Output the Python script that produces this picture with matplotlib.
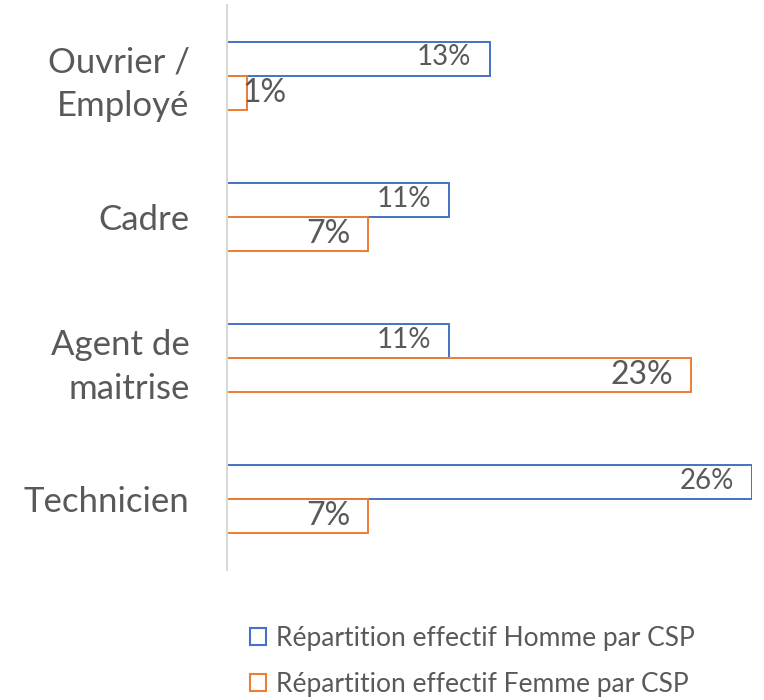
import numpy as np
import matplotlib.pyplot as plt
from matplotlib.patches import Patch

plt.rcParams['font.family'] = ['Lato', 'DejaVu Sans']

# Données
categories = ["Ouvrier /\nEmployé", "Cadre", "Agent de\nmaitrise", "Technicien"]
homme = [13, 11, 11, 26]
femme = [1, 7, 23, 7]
noms_series = ["Répartition effectif Homme par CSP", "Répartition effectif Femme par CSP"]

bleu = '#4472C4'
orange = '#ED7D31'
gris = '#595959'

fig = plt.figure(figsize=(7.64, 7.00), dpi=100)
ax = fig.add_axes([227 / 764, 130 / 700, 525 / 764, 565 / 700])

y = np.arange(len(categories))
h = 0.24
ax.barh(y - h / 2, homme, height=h, facecolor='none', edgecolor=bleu, linewidth=1.4)
ax.barh(y + h / 2, femme, height=h, facecolor='none', edgecolor=orange, linewidth=1.4)

# Étiquettes de données (intérieur extrémité)
for yi, v in zip(y - h / 2, homme):
    ax.annotate(f"{v}%", (v, yi), xytext=(-13, 1), textcoords='offset points',
                ha='right', va='center', fontsize=20, color=gris)
for yi, v in zip(y + h / 2, femme):
    if v < 3:
        ax.annotate(f"{v}%", (0, yi), xytext=(11, 0), textcoords='offset points',
                    ha='left', va='center', fontsize=23, color=gris)
    else:
        ax.annotate(f"{v}%", (v, yi), xytext=(-13, 0), textcoords='offset points',
                    ha='right', va='center', fontsize=23, color=gris)

ax.set_xlim(0, 26)
ax.set_ylim(3.5, -0.5)
ax.set_yticks(y)
ax.set_yticklabels(categories, fontsize=25, color=gris, ha='right', multialignment='right',
                   linespacing=1.45)
ax.tick_params(axis='y', length=0, pad=27)
ax.set_xticks([])
for s in ['top', 'right', 'bottom']:
    ax.spines[s].set_visible(False)
ax.spines['left'].set_color('#D9D9D9')
ax.spines['left'].set_linewidth(1.5)

handles = [Patch(facecolor='none', edgecolor=bleu, linewidth=1.5),
           Patch(facecolor='none', edgecolor=orange, linewidth=1.5)]
fig.legend(handles, noms_series, loc='upper left', bbox_to_anchor=(226 / 764, 1 - 602 / 700),
           frameon=False, fontsize=19, labelcolor=gris, handlelength=0.6, handleheight=0.6,
           handletextpad=0.4, labelspacing=0.8)

plt.savefig('out.png', dpi=100)
